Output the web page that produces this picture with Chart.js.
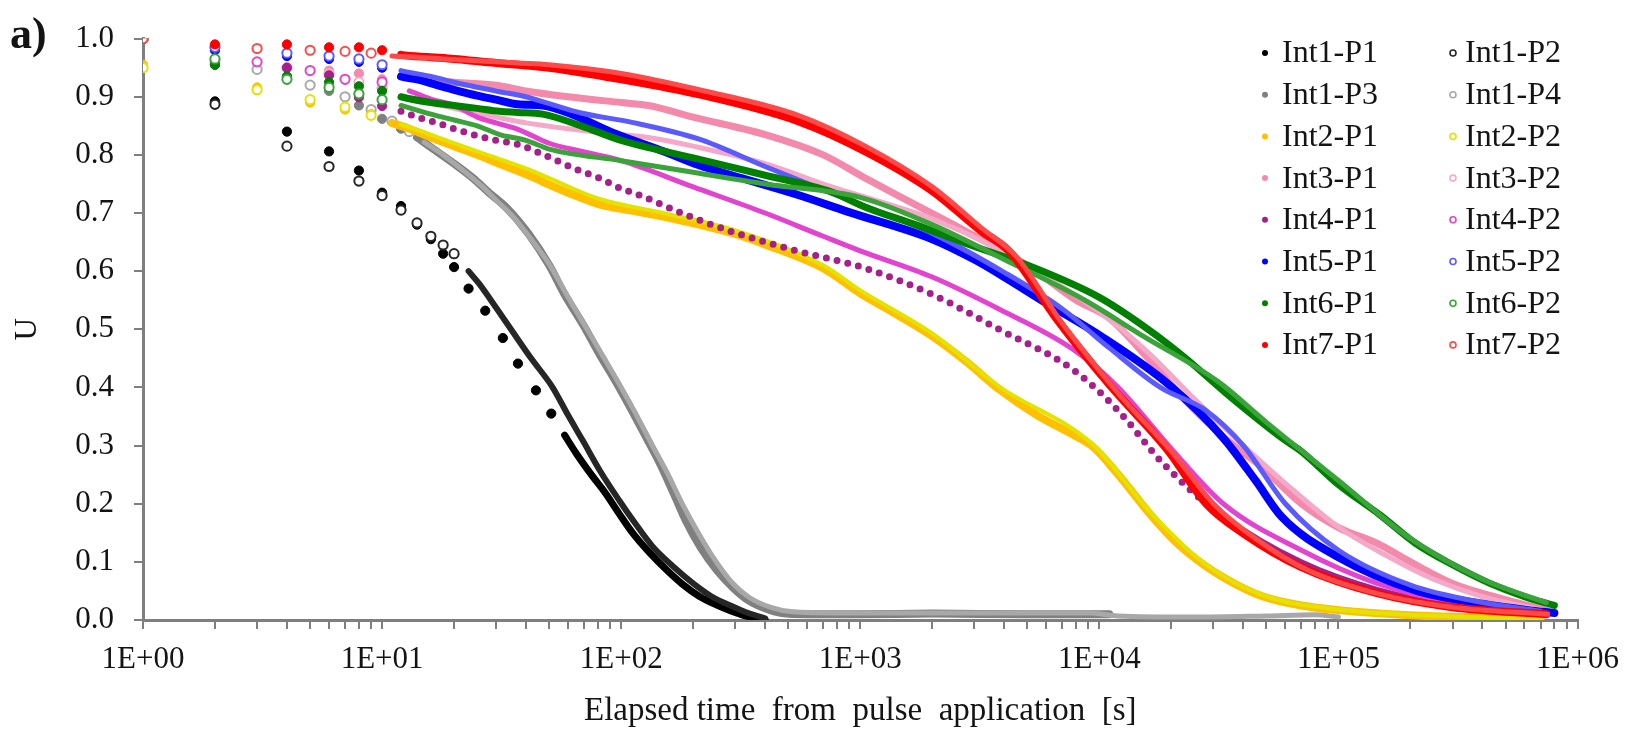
<!DOCTYPE html>
<html>
<head>
<meta charset="utf-8">
<title>U vs elapsed time</title>
<script src="https://cdn.jsdelivr.net/npm/chart.js@4.4.1/dist/chart.umd.min.js"></script>
<style>
  html, body { margin: 0; padding: 0; background: #fff; }
  #chart { display: block; }
</style>
</head>
<body>
<canvas id="chart" width="1631" height="731"></canvas>
<script>
/* ================== Data ================== */
const seriesNames = [
  "Int1-P1", "Int1-P2", "Int1-P3", "Int1-P4",
  "Int2-P1", "Int2-P2", "Int3-P1", "Int3-P2",
  "Int4-P1", "Int4-P2", "Int5-P1", "Int5-P2",
  "Int6-P1", "Int6-P2", "Int7-P1", "Int7-P2",
];

// [elapsed time s, U]
const int1P1 = [[1,1.0],[2,0.892],[4,0.840],[6,0.806],[8,0.773],[10,0.735],[12,0.712],[14,0.68],[16,0.655],[18,0.63],[20,0.607],[23,0.57],[27,0.532],[32,0.485],[37,0.441],[44,0.395],[51,0.355],[58,0.318],[65,0.286],[75,0.25],[86,0.218],[98,0.183],[112,0.149],[132,0.115],[155,0.086],[180,0.062],[212,0.041],[250,0.026],[290,0.015],[331,0.007],[400,0.0]];
const int1P2 = [[1,1.0],[2,0.887],[4,0.815],[6,0.78],[8,0.755],[10,0.73],[12,0.705],[14,0.683],[16,0.66],[18,0.645],[20,0.63],[23,0.6],[25.5,0.578],[30,0.537],[35,0.497],[42,0.45],[51.5,0.401],[60,0.352],[69,0.309],[82,0.255],[98,0.206],[115,0.165],[135,0.127],[165,0.092],[200,0.063],[240,0.04],[290,0.024],[340,0.012],[400,0.003]];
const int1P3 = [[1,1.0],[2,0.965],[4,0.935],[6,0.91],[8,0.885],[10,0.862],[12,0.845],[14,0.83],[16,0.813],[20,0.785],[24,0.76],[28,0.735],[33,0.71],[41,0.664],[50,0.61],[58,0.56],[70,0.505],[81,0.458],[95,0.41],[111,0.36],[127,0.315],[145,0.27],[165,0.22],[187,0.17],[215,0.125],[251,0.086],[295,0.055],[340,0.034],[400,0.02],[470,0.012],[600,0.01],[1000,0.01],[2000,0.011],[5000,0.01],[11000,0.01]];
const int1P4 = [[1,1.0],[3,0.947],[5,0.92],[7,0.90],[9,0.878],[11,0.858],[13,0.84],[15,0.822],[18,0.8],[22,0.772],[26,0.747],[30,0.722],[36,0.69],[42,0.655],[50,0.612],[60,0.555],[72,0.5],[85,0.45],[100,0.4],[115,0.355],[135,0.3],[155,0.255],[180,0.2],[210,0.15],[245,0.105],[290,0.065],[340,0.04],[420,0.022],[520,0.014],[800,0.012],[1500,0.012],[4000,0.012],[9000,0.012],[12000,0.007],[25000,0.005],[50000,0.007],[80000,0.009],[100000,0.005]];
const int2P1 = [[1,0.955],[3,0.916],[5,0.89],[7,0.878],[9,0.87],[11,0.855],[13,0.845],[16,0.83],[20,0.815],[25,0.8],[30,0.787],[37,0.772],[41,0.765],[48,0.752],[60,0.735],[81,0.715],[108,0.705],[150,0.694],[212,0.68],[300,0.664],[400,0.646],[700,0.605],[1000,0.562],[1400,0.527],[2000,0.488],[2800,0.443],[3800,0.397],[5500,0.352],[7500,0.322],[9400,0.298],[12000,0.25],[16300,0.182],[21000,0.133],[28000,0.092],[37000,0.062],[48000,0.041],[70000,0.025],[100000,0.017],[200000,0.008],[400000,0.004],[700000,0.002]];
const int2P2 = [[1,0.95],[3,0.912],[5,0.895],[7,0.882],[9,0.868],[12,0.852],[16,0.835],[20,0.82],[30,0.795],[41,0.775],[50,0.76],[80,0.725],[150,0.7],[300,0.67],[700,0.61],[1000,0.567],[2000,0.493],[3800,0.402],[9400,0.302],[16300,0.186],[28000,0.095],[48000,0.043],[100000,0.018],[300000,0.006],[700000,0.002]];
const int3P1 = [[1,1.0],[2,0.955],[4,0.95],[6,0.945],[8,0.94],[10,0.93],[12,0.935],[15,0.93],[20,0.925],[30,0.92],[40,0.91],[60,0.9],[100,0.89],[130,0.885],[200,0.865],[400,0.835],[700,0.8],[1050,0.76],[1600,0.72],[2750,0.669],[5000,0.61],[8000,0.55],[11000,0.519],[16000,0.45],[23000,0.377],[33000,0.315],[48000,0.262],[70000,0.2],[100000,0.159],[145000,0.132],[200000,0.1],[300000,0.063],[500000,0.035],[740000,0.017]];
const int3P2 = [[1,1.0],[2,0.96],[4,0.95],[6,0.94],[8,0.925],[10,0.915],[12,0.9],[16,0.89],[20,0.88],[30,0.865],[40,0.855],[60,0.845],[100,0.835],[130,0.83],[200,0.815],[400,0.785],[760,0.745],[1200,0.72],[2000,0.69],[3500,0.645],[6000,0.59],[10000,0.53],[16000,0.46],[25000,0.38],[40000,0.30],[60000,0.235],[100000,0.16],[160000,0.11],[250000,0.07],[400000,0.04],[750000,0.015]];
const int4P1 = [[2,0.955],[4,0.95],[6,0.937],[8,0.899],[10,0.884],[12,0.875],[14,0.865],[17,0.855],[20,0.845],[25,0.833],[30,0.825],[37,0.818],[50,0.796],[65,0.775],[81,0.76],[100,0.742],[119,0.731],[186,0.697],[290,0.668],[520,0.637],[1050,0.605],[2000,0.56],[3800,0.5],[7800,0.43],[12000,0.36],[18400,0.27],[33000,0.177],[70000,0.098],[145000,0.051],[300000,0.025],[620000,0.012]];
const int4P2 = [[1,1.0],[3,0.96],[5,0.945],[7,0.93],[10,0.925],[13,0.91],[16,0.896],[20,0.885],[25,0.865],[30,0.855],[37,0.844],[50,0.82],[70,0.805],[100,0.79],[200,0.745],[400,0.7],[700,0.66],[1000,0.635],[2000,0.59],[3800,0.535],[7800,0.465],[12000,0.4],[19500,0.3],[33000,0.2],[70000,0.12],[145000,0.063],[300000,0.03],[620000,0.015]];
const int5P1 = [[1,1.0],[2,0.98],[4,0.97],[6,0.965],[8,0.96],[10,0.95],[12,0.935],[14,0.93],[17,0.92],[20,0.912],[25,0.902],[30,0.895],[37,0.887],[47,0.885],[62,0.87],[90,0.84],[153,0.805],[212,0.782],[290,0.765],[550,0.731],[890,0.702],[2000,0.655],[3000,0.62],[4000,0.59],[6000,0.545],[10000,0.49],[19500,0.405],[33000,0.313],[45000,0.24],[58000,0.177],[100000,0.108],[210000,0.051],[400000,0.028],[620000,0.017],[800000,0.012]];
const int5P2 = [[1,1.0],[2,0.985],[4,0.975],[6,0.97],[8,0.965],[10,0.955],[12,0.945],[16,0.935],[20,0.925],[30,0.91],[40,0.9],[50,0.888],[68,0.872],[111,0.856],[212,0.827],[400,0.78],[700,0.74],[1000,0.715],[2000,0.665],[4000,0.598],[7000,0.535],[11000,0.468],[18000,0.4],[28000,0.36],[40000,0.3],[60000,0.2],[100000,0.12],[200000,0.06],[400000,0.03],[700000,0.015]];
const int6P1 = [[1,1.0],[2,0.955],[4,0.935],[6,0.925],[8,0.918],[10,0.91],[12,0.9],[16,0.89],[20,0.885],[25,0.88],[31,0.875],[37,0.873],[47,0.87],[68,0.85],[100,0.825],[200,0.795],[400,0.765],[760,0.736],[1050,0.71],[1700,0.68],[2750,0.648],[5400,0.605],[10000,0.555],[16000,0.5],[23000,0.45],[35000,0.385],[58000,0.313],[70000,0.29],[100000,0.233],[150000,0.18],[210000,0.132],[300000,0.095],[430000,0.063],[600000,0.04],[800000,0.025]];
const int6P2 = [[1,1.0],[2,0.965],[4,0.93],[6,0.916],[8,0.905],[10,0.895],[12,0.885],[16,0.87],[20,0.86],[25,0.85],[31,0.835],[40,0.825],[50,0.81],[100,0.79],[200,0.77],[400,0.75],[1000,0.727],[2000,0.68],[4000,0.62],[8700,0.55],[15000,0.49],[31400,0.41],[50000,0.34],[100000,0.24],[200000,0.14],[400000,0.07],[740000,0.03]];
const int7P1 = [[1,1.0],[2,0.99],[4,0.99],[6,0.985],[8,0.985],[10,0.98],[12,0.972],[16,0.968],[20,0.965],[30,0.958],[37,0.955],[50,0.95],[100,0.93],[212,0.904],[550,0.858],[1050,0.806],[2000,0.738],[3200,0.669],[4200,0.634],[6600,0.519],[11000,0.405],[19500,0.29],[28000,0.2],[40000,0.149],[70000,0.091],[145000,0.046],[300000,0.022],[740000,0.01]];
const int7P2 = [[1,1.0],[3,0.983],[5,0.98],[7,0.978],[9,0.975],[11,0.97],[14,0.968],[18,0.965],[25,0.962],[37,0.958],[50,0.955],[100,0.94],[212,0.912],[550,0.868],[1050,0.815],[2000,0.745],[3200,0.675],[4500,0.625],[7000,0.51],[12000,0.39],[20000,0.29],[30000,0.2],[45000,0.14],[75000,0.085],[150000,0.044],[300000,0.022],[750000,0.01]];

const seriesData = [
  int1P1, int1P2, int1P3, int1P4, int2P1, int2P2, int3P1, int3P2,
  int4P1, int4P2, int5P1, int5P2, int6P1, int6P2, int7P1, int7P2,
];

const xDecades = [1, 10, 100, 1000, 10000, 100000, 1000000];
const xTickLabels = ["1E+00", "1E+01", "1E+02", "1E+03", "1E+04", "1E+05", "1E+06"];
const xMinorSteps = [2, 3, 4, 5, 6, 7, 8, 9];

/* ================== Styles ================== */
// colour, hollow marker, x where the dense band starts, band width
const styles = [
  { color: "#000000", hollow: false, from: 55, width: 7 },
  { color: "#262626", hollow: true, from: 22, width: 6 },
  { color: "#808080", hollow: false, from: 14, width: 8 },
  { color: "#a8a8a8", hollow: true, from: 14, width: 5 },
  { color: "#ffc000", hollow: false, from: 11, width: 8 },
  { color: "#e3e300", hollow: true, from: 11, width: 4 },
  { color: "#f38aab", hollow: false, from: 11, width: 7 },
  { color: "#f5a9c9", hollow: true, from: 11, width: 5 },
  { color: "#a5208a", hollow: false, from: 11, width: 7, dots: 20000 },
  { color: "#e244cf", hollow: true, from: 11, width: 5 },
  { color: "#0000ff", hollow: false, from: 11, width: 8 },
  { color: "#5a5aff", hollow: true, from: 11, width: 5 },
  { color: "#008000", hollow: false, from: 11, width: 7 },
  { color: "#3aa33a", hollow: true, from: 11, width: 5 },
  { color: "#ff0000", hollow: false, from: 11, width: 8 },
  { color: "#ff4a4a", hollow: true, from: 11, width: 5 },
];

const FONT = "'Liberation Serif', 'Times New Roman', serif";
const AXIS_GRAY = "#7f7f7f";
const TEXT = "#141414";

const datasets = seriesData.map((pts, i) => {
  const s = styles[i];
  return {
    label: seriesNames[i],
    data: pts.map(([x, y]) => ({ x, y })),
    showLine: true,
    cubicInterpolationMode: "monotone",
    order: -i,
    borderColor: s.color,
    borderWidth: s.width,
    borderCapStyle: "round",
    borderJoinStyle: "round",
    pointStyle: "circle",
    pointBackgroundColor: s.hollow ? "#ffffff" : s.color,
    pointBorderColor: s.color,
    pointBorderWidth: s.hollow ? 2 : 1,
    pointRadius: (c) => (c.raw && c.raw.x < s.from ? 4.6 : 0),
    segment: {
      borderColor: (c) => (c.p0.parsed.x < s.from ? "rgba(0,0,0,0)" : undefined),
      borderDash: (c) => (s.dots && c.p0.parsed.x < s.dots ? [0, 11] : undefined),
    },
  };
});

/* ================== Plugins: panel letter + 2-column legend ================== */
const extras = {
  id: "extras",
  afterDraw(chart) {
    const { ctx } = chart;
    ctx.save();
    ctx.fillStyle = TEXT;
    ctx.textBaseline = "middle";
    ctx.textAlign = "left";
    ctx.font = `bold 44px ${FONT}`;
    ctx.fillText("a)", 10, 37);

    ctx.font = `32px ${FONT}`;
    const cols = [{ mx: 1265, tx: 1282 }, { mx: 1453, tx: 1465 }];
    seriesNames.forEach((name, i) => {
      const col = cols[i % 2];
      const y = 53 + Math.floor(i / 2) * 41.7;
      const s = styles[i];
      ctx.beginPath();
      ctx.arc(col.mx, y, 3, 0, Math.PI * 2);
      if (s.hollow) {
        ctx.lineWidth = 1.6;
        ctx.strokeStyle = s.color;
        ctx.stroke();
      } else {
        ctx.fillStyle = s.color;
        ctx.fill();
      }
      ctx.fillStyle = TEXT;
      ctx.fillText(name, col.tx, y + 1);
    });
    ctx.restore();
  },
};

/* ================== Chart ================== */
new Chart(document.getElementById("chart"), {
  type: "scatter",
  data: { datasets },
  plugins: [extras],
  options: {
    responsive: false,
    animation: false,
    devicePixelRatio: 1,
    layout: { padding: { left: 0, right: 51, top: 38, bottom: 0 } },
    plugins: { legend: { display: false }, tooltip: { enabled: false } },
    scales: {
      x: {
        type: "logarithmic",
        min: 1,
        max: 1000000,
        afterFit: (s) => { s.height = 111; },
        afterBuildTicks: (s) => {
          const ticks = [];
          xDecades.forEach((d, i) => {
            ticks.push({ value: d, major: true });
            if (i < xDecades.length - 1) xMinorSteps.forEach((m) => ticks.push({ value: d * m }));
          });
          s.ticks = ticks;
        },
        ticks: {
          autoSkip: false,
          maxRotation: 0,
          padding: 12,
          color: TEXT,
          font: { family: FONT, size: 31 },
          callback: (v) => {
            const k = xDecades.indexOf(v);
            return k >= 0 ? xTickLabels[k] : "";
          },
        },
        grid: { drawOnChartArea: false, drawTicks: true, tickLength: 9, color: AXIS_GRAY, lineWidth: 2 },
        border: { display: true, color: AXIS_GRAY, width: 3 },
        title: {
          display: true,
          text: "Elapsed time  from  pulse  application  [s]",
          color: TEXT,
          font: { family: FONT, size: 33 },
          padding: { top: 0, bottom: 0 },
        },
      },
      y: {
        min: 0,
        max: 1,
        afterFit: (s) => { s.width = 143; },
        ticks: {
          stepSize: 0.1,
          padding: 20,
          color: TEXT,
          font: { family: FONT, size: 31 },
          callback: (v) => Number(v).toFixed(1),
        },
        grid: { drawOnChartArea: false, drawTicks: true, tickLength: 9, color: AXIS_GRAY, lineWidth: 2 },
        border: { display: true, color: AXIS_GRAY, width: 3 },
        title: {
          display: true,
          text: "U",
          color: TEXT,
          font: { family: FONT, size: 31 },
          padding: { top: 9, bottom: 0 },
        },
      },
    },
  },
});
</script>
</body>
</html>
